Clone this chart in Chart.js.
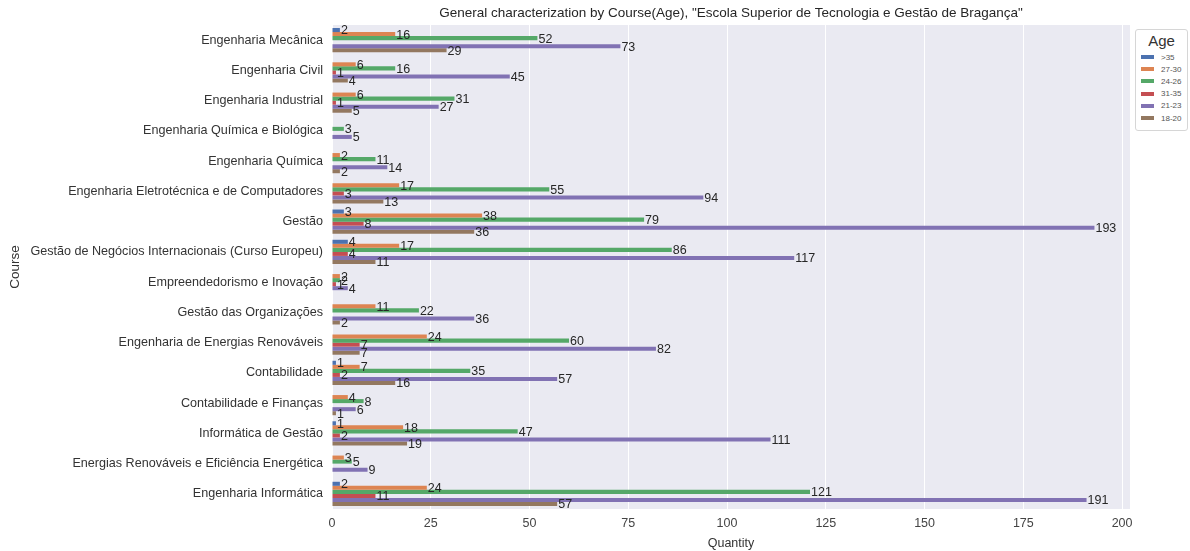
<!DOCTYPE html>
<html>
<head>
<meta charset="utf-8">
<script src="https://cdn.jsdelivr.net/npm/chart.js@4.4.1/dist/chart.umd.min.js"></script>
<style>
  html, body { margin: 0; padding: 0; background: #fff; }
  #wrap { position: relative; width: 1190px; height: 551px; }
  #legend {
    position: absolute; left: 1135px; top: 29px; width: 53px;
    border: 1px solid #d6d6d6; border-radius: 3px; background: #fff;
    font-family: "Liberation Sans", Arial, sans-serif; color: #333;
    box-sizing: border-box; padding: 2px 0 6px 0;
  }
  #legend .ttl { text-align: center; font-size: 15px; line-height: 17px; margin-bottom: 2px; }
  #legend .row { display: flex; align-items: center; height: 12.2px; font-size: 8px; color: #555; }
  #legend .sw { width: 13px; height: 4px; margin: 0 7px 0 5px; }
</style>
</head>
<body>
<div id="wrap">
  <canvas id="c" width="1190" height="551"></canvas>
  <div id="legend"></div>
</div>
<script>
  /* categorias (cursos) */
  var COURSES = [
    'Engenharia Mecânica',
    'Engenharia Civil',
    'Engenharia Industrial',
    'Engenharia Química e Biológica',
    'Engenharia Química',
    'Engenharia Eletrotécnica e de Computadores',
    'Gestão',
    'Gestão de Negócios Internacionais (Curso Europeu)',
    'Empreendedorismo e Inovação',
    'Gestão das Organizações',
    'Engenharia de Energias Renováveis',
    'Contabilidade',
    'Contabilidade e Finanças',
    'Informática de Gestão',
    'Energias Renováveis e Eficiência Energética',
    'Engenharia Informática'
  ];

  var AGE_GROUPS = ['>35', '27-30', '24-26', '31-35', '21-23', '18-20'];
  var AGE_COLORS = ['#4c72b0', '#dd8452', '#55a868', '#c44e52', '#8172b3', '#937860'];

  /* valores por faixa etária (null = sem alunos) */
  var AGE_OVER_35  = [2, null, null, null, null, null, 3, 4, null, null, null, 1, null, 1, null, 2];
  var AGE_27_30    = [16, 6, 6, null, 2, 17, 38, 17, 2, 11, 24, 7, 4, 18, 3, 24];
  var AGE_24_26    = [52, 16, 31, 3, 11, 55, 79, 86, 2, 22, 60, 35, 8, 47, 5, 121];
  var AGE_31_35    = [null, 1, 1, null, null, 3, 8, 4, 1, null, 7, 2, null, 2, null, 11];
  var AGE_21_23    = [73, 45, 27, 5, 14, 94, 193, 117, 4, 36, 82, 57, 6, 111, 9, 191];
  var AGE_18_20    = [29, 4, 5, null, 2, 13, 36, 11, null, 2, 7, 16, 1, 19, null, 57];

  var SERIES = [AGE_OVER_35, AGE_27_30, AGE_24_26, AGE_31_35, AGE_21_23, AGE_18_20];

  var X_TICK_STEP = 25;
  var X_TICK_LAST = 200;
  var X_MAX = 202;

  var FONT = '"Liberation Sans", Arial, sans-serif';
  var TEXT = '#333333';

  /* fundo cinza da área do gráfico (estilo seaborn darkgrid) */
  var plotBg = {
    id: 'plotBg',
    beforeDraw: function (chart) {
      var a = chart.chartArea, ctx = chart.ctx;
      ctx.save();
      ctx.fillStyle = '#eaeaf2';
      ctx.fillRect(a.left, a.top, a.right - a.left, a.bottom - a.top);
      ctx.restore();
    }
  };

  /* rótulos com o valor no fim de cada barra */
  var barLabels = {
    id: 'barLabels',
    afterDatasetsDraw: function (chart) {
      var ctx = chart.ctx;
      ctx.save();
      ctx.font = '12.5px ' + FONT;
      ctx.fillStyle = '#262626';
      ctx.textAlign = 'left';
      ctx.textBaseline = 'middle';
      chart.data.datasets.forEach(function (ds, i) {
        var meta = chart.getDatasetMeta(i);
        meta.data.forEach(function (bar, j) {
          var v = ds.data[j];
          if (v === null || v === undefined) return;
          ctx.fillText(String(v), bar.x + 1, bar.y + 1);
        });
      });
      ctx.restore();
    }
  };

  var datasets = AGE_GROUPS.map(function (g, i) {
    return {
      label: g,
      data: SERIES[i],
      backgroundColor: AGE_COLORS[i],
      borderWidth: 0,
      barPercentage: 1,
      categoryPercentage: 0.8
    };
  });

  new Chart(document.getElementById('c'), {
    type: 'bar',
    data: { labels: COURSES, datasets: datasets },
    plugins: [plotBg, barLabels],
    options: {
      indexAxis: 'y',
      responsive: false,
      animation: false,
      layout: { padding: { left: 0, right: 60, top: 0, bottom: 0 } },
      scales: {
        x: {
          min: 0,
          max: X_MAX,
          ticks: {
            color: '#444',
            font: { family: FONT, size: 12.5 },
            padding: 7
          },
          afterBuildTicks: function (scale) {
            var t = [];
            for (var v = 0; v <= X_TICK_LAST; v += X_TICK_STEP) t.push({ value: v });
            scale.ticks = t;
          },
          afterFit: function (scale) { scale.height = 42; },
          grid: { color: '#ffffff', lineWidth: 1, drawTicks: false },
          border: { display: false },
          title: {
            display: true,
            text: 'Quantity',
            color: TEXT,
            font: { family: FONT, size: 12.5 },
            padding: { top: 0, bottom: 0 }
          }
        },
        y: {
          ticks: {
            color: TEXT,
            font: { family: FONT, size: 12.6 },
            padding: 9
          },
          afterFit: function (scale) { scale.width = 332; },
          grid: { display: false, drawTicks: false },
          border: { display: false },
          title: {
            display: true,
            text: 'Course',
            color: TEXT,
            font: { family: FONT, size: 13.5 },
            padding: { top: 7, bottom: 0 }
          }
        }
      },
      plugins: {
        legend: { display: false },
        tooltip: { enabled: false },
        title: {
          display: true,
          fullSize: false,
          text: 'General characterization by Course(Age), "Escola Superior de Tecnologia e Gestão de Bragança"',
          color: '#262626',
          font: { family: FONT, size: 13.5, weight: 'normal' },
          padding: { top: 5, bottom: 3.8 }
        }
      }
    }
  });

  /* legenda "Age" */
  var legend = document.getElementById('legend');
  var html = '<div class="ttl">Age</div>';
  AGE_GROUPS.forEach(function (g, i) {
    html += '<div class="row"><span class="sw" style="background:' + AGE_COLORS[i] + '"></span>' +
      g.replace('>', '&gt;') + '</div>';
  });
  legend.innerHTML = html;
</script>
</body>
</html>
